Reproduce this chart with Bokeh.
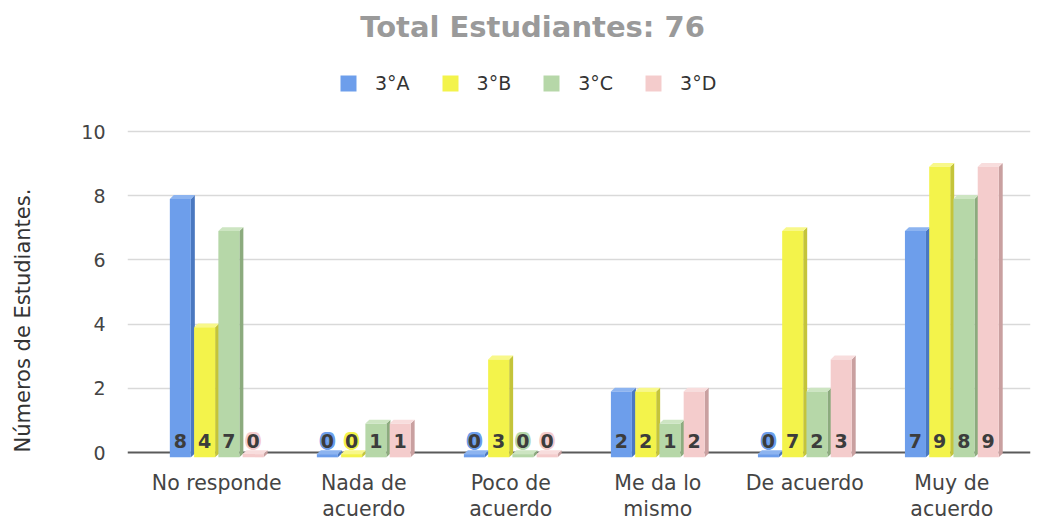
import numpy as np
from bokeh.plotting import figure
from bokeh.models import ColumnDataSource, Legend, LegendItem, FixedTicker
from bokeh.core.properties import value
from bokeh.embed import file_html
from bokeh.resources import INLINE

categories = ["No responde", "Nada de\nacuerdo", "Poco de\nacuerdo", "Me da lo\nmismo", "De acuerdo", "Muy de\nacuerdo"]
series_names = ["3°A", "3°B", "3°C", "3°D"]
vals_a = [8, 0, 0, 2, 0, 7]
vals_b = [4, 0, 3, 2, 7, 9]
vals_c = [7, 1, 0, 1, 2, 8]
vals_d = [0, 1, 0, 2, 3, 9]
y_ticks = [0, 2, 4, 6, 8, 10]
title_text = "Total Estudiantes: 76"
y_label = "Números de Estudiantes."

series = [vals_a, vals_b, vals_c, vals_d]
front_colors = ["#6d9eeb", "#f3f34b", "#b6d7a8", "#f4cccc"]
side_colors = ["#4a78c0", "#c4c43a", "#8cab7e", "#c9a0a0"]
top_colors = ["#8db4f0", "#f8f88a", "#cde5c2", "#f8dddd"]

FONT = "DejaVu Sans"
X0, X1 = -0.607, 5.535
Y0, Y1 = -2.118, 14.081

p = figure(width=1042, height=520, output_backend="svg", toolbar_location=None,
           x_range=(X0, X1), y_range=(Y0, Y1),
           min_border_left=127, min_border_right=12, min_border_top=0, min_border_bottom=0)
p.outline_line_color = None
p.background_fill_color = "white"

p.xaxis.visible = False
p.xgrid.visible = False
p.ygrid.grid_line_color = "#d9d9d9"
p.ygrid.grid_line_width = 1.6
p.ygrid.ticker = FixedTicker(ticks=y_ticks[1:])

p.yaxis.ticker = FixedTicker(ticks=y_ticks)
p.yaxis.axis_line_color = None
p.yaxis.major_tick_line_color = None
p.yaxis.minor_tick_line_color = None
p.yaxis.major_label_text_font = FONT
p.yaxis.major_label_text_font_size = "19px"
p.yaxis.major_label_text_color = "#444444"
p.yaxis.major_label_standoff = 16
p.yaxis.axis_label = y_label + "\u00a0" * 18
p.yaxis.axis_label_text_font = FONT
p.yaxis.axis_label_text_font_style = "normal"
p.yaxis.axis_label_text_font_size = "21px"
p.yaxis.axis_label_text_color = "#333333"
p.yaxis.axis_label_standoff = 43

xs = list(range(len(categories)))

# title (drawn as text in the top band of the frame)
p.text(x=[2.148], y=[13.24], text=[title_text],
       text_font=value(FONT), text_font_style="bold", text_font_size="29px",
       text_color="#9a9a9a", text_align="center", text_baseline="middle")

# zero line
p.line(x=[X0, X1], y=[0, 0], line_color="#5a5a5a", line_width=2)

# category labels below the baseline
p.text(x=xs, y=[-0.57] * len(xs), text=categories,
       text_font=value(FONT), text_font_size="20.5px", text_color="#444444",
       text_align="center", text_baseline="top", text_line_height=1.08)

w = 0.143
step = 0.165
dx = 0.027
dy = 0.12
base = -0.15
offsets = [-1.5, -0.5, 0.5, 1.5]

legend_items = []
for k, vals in enumerate(series):
    v = np.array(vals, dtype=float)
    cx = np.array(xs, dtype=float) + offsets[k] * step
    top = np.where(v > 0, v - 0.1, -0.05)
    side_xs, side_ys, top_xs, top_ys = [], [], [], []
    for x0, t in zip(cx, top):
        r = x0 + w / 2
        l = x0 - w / 2
        side_xs.append([r, r + dx, r + dx, r])
        side_ys.append([base, base + dy, t + dy, t])
        top_xs.append([l, l + dx, r + dx, r])
        top_ys.append([t, t + dy, t + dy, t])
    p.patches(xs=side_xs, ys=side_ys, fill_color=side_colors[k], line_color=None)
    p.patches(xs=top_xs, ys=top_ys, fill_color=top_colors[k], line_color=None)
    src = ColumnDataSource(dict(x=cx, top=top, bottom=np.full_like(cx, base)))
    r = p.vbar(x="x", top="top", bottom="bottom", width=w, source=src,
               fill_color=front_colors[k], line_color=None)
    legend_items.append(LegendItem(label=series_names[k], renderers=[r]))

# value labels
halo = [(-2, 0), (2, 0), (0, -2), (0, 2), (-1.5, -1.5), (1.5, 1.5), (-1.5, 1.5), (1.5, -1.5)]
for k, vals in enumerate(series):
    cx = np.array(xs, dtype=float) + offsets[k] * step
    z = [i for i, a in enumerate(vals) if a == 0]
    if z:
        for ox, oy in halo:
            p.text(x=[cx[i] for i in z], y=[0.37] * len(z), text=[str(vals[i]) for i in z],
                   text_font=value(FONT), text_font_style="bold", text_font_size="19px",
                   text_color=front_colors[k], text_align="center", text_baseline="middle",
                   x_offset=ox, y_offset=oy)
    p.text(x=cx, y=[0.37] * len(cx), text=[str(a) for a in vals],
           text_font=value(FONT), text_font_style="bold", text_font_size="19px",
           text_color="#3c3c3c", text_align="center", text_baseline="middle")

legend = Legend(items=legend_items, orientation="horizontal", location=(211, 426),
                border_line_color=None, background_fill_alpha=0,
                label_text_font=FONT,
                label_text_font_size="19px", label_text_color="#333333",
                glyph_width=20, glyph_height=20, spacing=30, label_standoff=17,
                margin=0, padding=0)
p.add_layout(legend)

open("out.html", "w").write(file_html(p, INLINE))
